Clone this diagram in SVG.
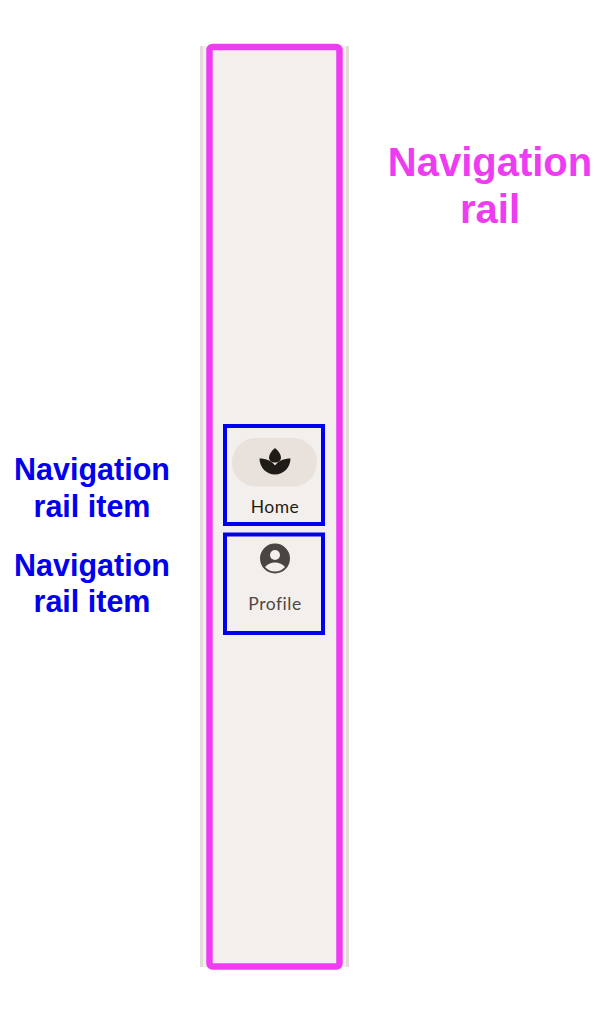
<svg xmlns="http://www.w3.org/2000/svg" width="614" height="1014" viewBox="0 0 614 1014">
<style>
.lbl{font-family:"Liberation Sans",Arial,sans-serif;font-weight:bold;text-anchor:middle}
.blue{fill:#0000ee;font-size:30.5px}
.mag{fill:#ee3cf2;font-size:40px}
.item{fill:none;stroke:#0000ee;stroke-width:4}
.itxt{font-family:Lato,"Noto Sans",sans-serif;font-size:17.5px;letter-spacing:0.5px;text-anchor:middle}
</style>
<rect width="614" height="1014" fill="#ffffff"/>
<g id="rail">
<rect x="200" y="46" width="149" height="921" fill="#e0dcd8"/>
<rect x="203" y="46" width="143" height="921" fill="#f3efec"/>
<rect x="209.5" y="47" width="130" height="919.5" rx="3" fill="none" stroke="#ee3cf2" stroke-width="6.5"/>
</g>
<g id="item-home">
<rect x="232" y="438" width="85" height="48.5" rx="24.25" fill="#e8e1dc"/>
<path d="M275 448 C278.5 451 281 454.5 281 457.5 C281 460.5 278.5 462.5 275 462.5 C271.5 462.5 269 460.5 269 457.5 C269 454.5 271.5 451 275 448 Z" fill="#1f1b16"/>
<path d="M259.5 458.5 C266 458.5 272 461 275 465.5 C278 461 284 458.5 290.5 458.5 C290.5 467.5 283.5 474.5 275 474.5 C266.5 474.5 259.5 467.5 259.5 458.5 Z" fill="#1f1b16"/>
<text class="itxt" x="275" y="512.5" fill="#1f1b16">Home</text>
<rect class="item" x="225" y="426" width="98" height="98"/>
</g>
<g id="item-profile">
<circle cx="275" cy="558.5" r="15" fill="#4a4540"/>
<circle cx="275" cy="555" r="5" fill="#f3efec"/>
<path d="M265 567 C267.5 564 271 562.5 275 562.5 C279 562.5 282.5 564 285 567 C282 570 279 571.5 275 571.5 C271 571.5 268 570 265 567 Z" fill="#f3efec"/>
<text class="itxt" x="275" y="610" fill="#4d4843">Profile</text>
<rect class="item" x="225" y="534.5" width="98" height="98.5"/>
</g>
<g id="label-rail">
<text class="lbl mag" x="490" y="175.5">Navigation</text>
<text class="lbl mag" x="490" y="223">rail</text>
</g>
<g id="label-item-1">
<text class="lbl blue" x="92" y="480">Navigation</text>
<text class="lbl blue" x="92" y="516.5">rail item</text>
</g>
<g id="label-item-2">
<text class="lbl blue" x="92" y="576">Navigation</text>
<text class="lbl blue" x="92" y="612">rail item</text>
</g>
<g id="connectors"></g>
</svg>
